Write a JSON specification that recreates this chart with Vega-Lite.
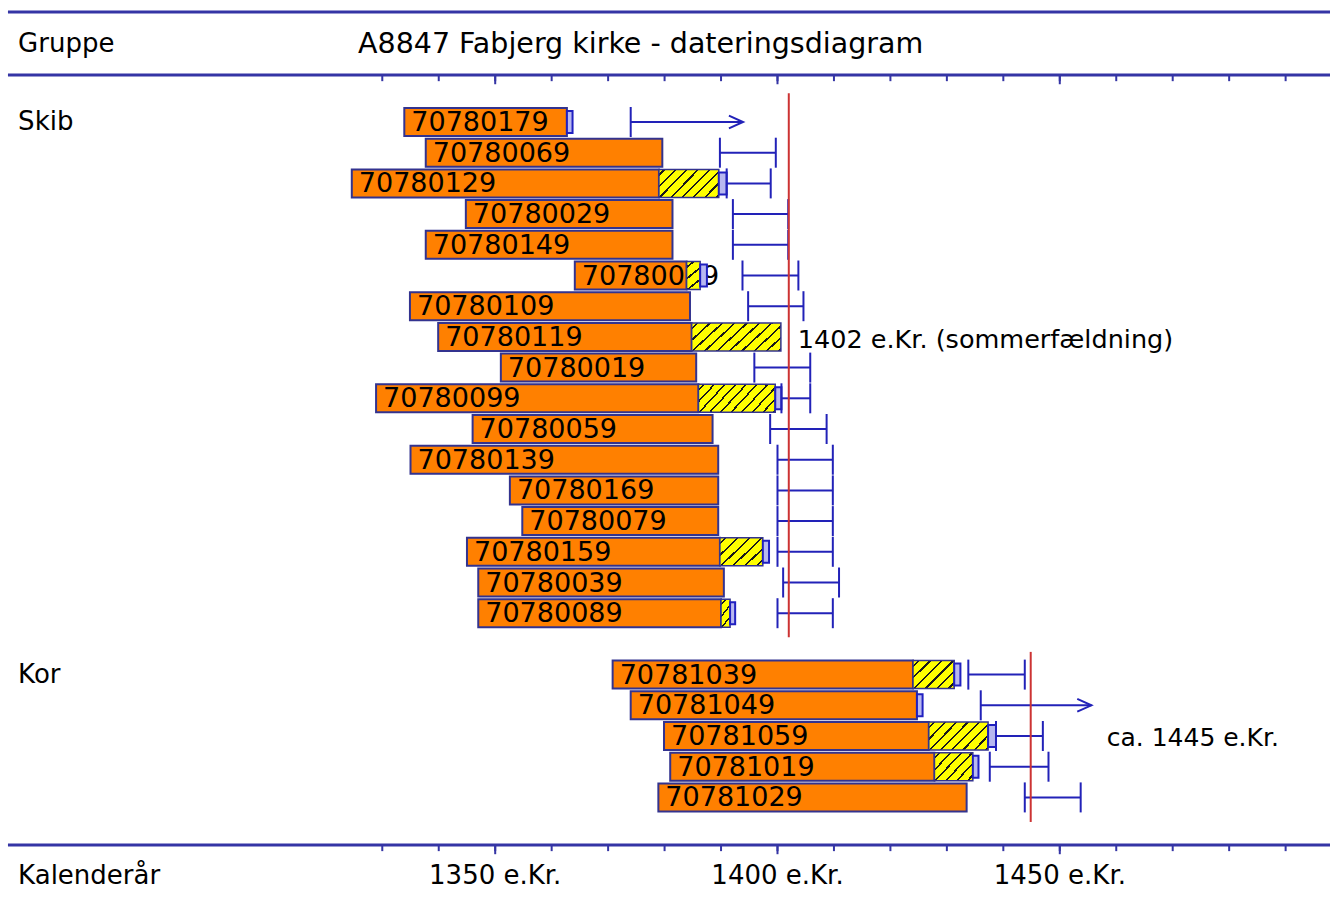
{
  "$schema": "https://vega.github.io/schema/vega-lite/v6.json",
  "width": 1330,
  "height": 904,
  "padding": 0,
  "autosize": {"type": "none"},
  "background": "white",
  "config": {"view": {"stroke": null}, "text": {"font": "DejaVu Sans", "color": "#000000"}},
  "datasets": {
    "samples": [
      {"row": 0, "id": "70780179", "s": 1333.9, "h": 1362.7, "sw": null, "bs": 1362.7, "be": 1363.7, "lo": 1374.0, "hi": 1393.9, "kind": "after"},
      {"row": 1, "id": "70780069", "s": 1337.7, "h": 1379.6, "sw": null, "bs": null, "be": null, "lo": 1389.8, "hi": 1399.7, "kind": "range"},
      {"row": 2, "id": "70780129", "s": 1324.6, "h": 1379.0, "sw": 1389.6, "bs": 1389.6, "be": 1391.0, "lo": 1391.0, "hi": 1398.8, "kind": "range"},
      {"row": 3, "id": "70780029", "s": 1344.8, "h": 1381.4, "sw": null, "bs": null, "be": null, "lo": 1392.1, "hi": 1401.9, "kind": "range"},
      {"row": 4, "id": "70780149", "s": 1337.7, "h": 1381.4, "sw": null, "bs": null, "be": null, "lo": 1392.1, "hi": 1401.9, "kind": "range"},
      {"row": 5, "id": "70780049", "s": 1364.1, "h": 1383.9, "sw": 1386.3, "bs": 1386.3, "be": 1387.5, "lo": 1393.8, "hi": 1403.7, "kind": "range"},
      {"row": 6, "id": "70780109", "s": 1334.9, "h": 1384.5, "sw": null, "bs": null, "be": null, "lo": 1394.8, "hi": 1404.6, "kind": "range"},
      {"row": 7, "id": "70780119", "s": 1339.9, "h": 1384.8, "sw": 1400.6, "bs": null, "be": null, "lo": null, "hi": null, "kind": "none"},
      {"row": 8, "id": "70780019", "s": 1351.0, "h": 1385.6, "sw": null, "bs": null, "be": null, "lo": 1395.9, "hi": 1405.8, "kind": "range"},
      {"row": 9, "id": "70780099", "s": 1328.9, "h": 1386.0, "sw": 1399.6, "bs": 1399.6, "be": 1400.7, "lo": 1400.7, "hi": 1405.8, "kind": "range"},
      {"row": 10, "id": "70780059", "s": 1346.0, "h": 1388.5, "sw": null, "bs": null, "be": null, "lo": 1398.7, "hi": 1408.7, "kind": "range"},
      {"row": 11, "id": "70780139", "s": 1335.0, "h": 1389.5, "sw": null, "bs": null, "be": null, "lo": 1400.0, "hi": 1409.8, "kind": "range"},
      {"row": 12, "id": "70780169", "s": 1352.6, "h": 1389.5, "sw": null, "bs": null, "be": null, "lo": 1400.0, "hi": 1409.8, "kind": "range"},
      {"row": 13, "id": "70780079", "s": 1354.8, "h": 1389.5, "sw": null, "bs": null, "be": null, "lo": 1400.0, "hi": 1409.8, "kind": "range"},
      {"row": 14, "id": "70780159", "s": 1345.0, "h": 1389.8, "sw": 1397.4, "bs": 1397.4, "be": 1398.5, "lo": 1400.0, "hi": 1409.8, "kind": "range"},
      {"row": 15, "id": "70780039", "s": 1347.0, "h": 1390.5, "sw": null, "bs": null, "be": null, "lo": 1401.0, "hi": 1410.9, "kind": "range"},
      {"row": 16, "id": "70780089", "s": 1347.0, "h": 1390.0, "sw": 1391.6, "bs": 1391.6, "be": 1392.5, "lo": 1400.0, "hi": 1409.8, "kind": "range"},
      {"row": 18, "id": "70781039", "s": 1370.8, "h": 1424.0, "sw": 1431.3, "bs": 1431.3, "be": 1432.4, "lo": 1433.8, "hi": 1443.8, "kind": "range"},
      {"row": 19, "id": "70781049", "s": 1374.0, "h": 1424.7, "sw": null, "bs": 1424.7, "be": 1425.7, "lo": 1436.0, "hi": 1455.6, "kind": "after"},
      {"row": 20, "id": "70781059", "s": 1379.9, "h": 1426.8, "sw": 1437.3, "bs": 1437.3, "be": 1438.7, "lo": 1438.7, "hi": 1447.0, "kind": "range"},
      {"row": 21, "id": "70781019", "s": 1381.0, "h": 1427.8, "sw": 1434.6, "bs": 1434.6, "be": 1435.6, "lo": 1437.6, "hi": 1448.0, "kind": "range"},
      {"row": 22, "id": "70781029", "s": 1378.9, "h": 1433.5, "sw": null, "bs": null, "be": null, "lo": 1443.8, "hi": 1453.7, "kind": "range"}
    ],
    "groups": [{"g": "Skib", "row": 0}, {"g": "Kor", "row": 18}],
    "ticks": [{"t": 1330}, {"t": 1340}, {"t": 1350}, {"t": 1360}, {"t": 1370}, {"t": 1380}, {"t": 1390}, {"t": 1400}, {"t": 1410}, {"t": 1420}, {"t": 1430}, {"t": 1440}, {"t": 1450}, {"t": 1460}, {"t": 1470}, {"t": 1480}, {"t": 1490}],
    "years": [{"t": 1350, "lab": "1350 e.Kr."}, {"t": 1400, "lab": "1400 e.Kr."}, {"t": 1450, "lab": "1450 e.Kr."}],
    "one": [{}]
  },
  "layer": [
    {"data": {"name": "one"}, "mark": {"type": "rule", "stroke": "#3535a5", "strokeWidth": 3},
     "encoding": {"x": {"datum": 1263.7, "type": "quantitative", "scale": {"domain": [1262.29, 1497.86], "nice": false, "zero": false, "padding": 0}, "axis": null}, "x2": {"datum": 1500},
                  "y": {"datum": -3.583, "type": "quantitative", "scale": {"domain": [-3.974, 25.472], "nice": false, "zero": false, "reverse": true, "padding": 0}, "axis": null}}},
    {"data": {"name": "one"}, "mark": {"type": "rule", "stroke": "#3535a5", "strokeWidth": 3},
     "encoding": {"x": {"datum": 1263.7, "type": "quantitative", "scale": {"domain": [1262.29, 1497.86], "nice": false, "zero": false, "padding": 0}, "axis": null}, "x2": {"datum": 1500},
                  "y": {"datum": -1.531, "type": "quantitative", "scale": {"domain": [-3.974, 25.472], "nice": false, "zero": false, "reverse": true, "padding": 0}, "axis": null}}},
    {"data": {"name": "one"}, "mark": {"type": "rule", "stroke": "#3535a5", "strokeWidth": 3},
     "encoding": {"x": {"datum": 1263.7, "type": "quantitative", "scale": {"domain": [1262.29, 1497.86], "nice": false, "zero": false, "padding": 0}, "axis": null}, "x2": {"datum": 1500},
                  "y": {"datum": 23.55, "type": "quantitative", "scale": {"domain": [-3.974, 25.472], "nice": false, "zero": false, "reverse": true, "padding": 0}, "axis": null}}},
    {"data": {"name": "ticks"}, "mark": {"type": "rule", "stroke": "#3535a5", "strokeWidth": 2},
     "encoding": {"x": {"field": "t", "type": "quantitative", "scale": {"domain": [1262.29, 1497.86], "nice": false, "zero": false, "padding": 0}, "axis": null},
                  "y": {"datum": -1.531, "type": "quantitative", "scale": {"domain": [-3.974, 25.472], "nice": false, "zero": false, "reverse": true, "padding": 0}, "axis": null}, "y2": {"datum": -1.33}}},
    {"data": {"name": "ticks"}, "transform": [{"filter": "datum.t % 50 == 0"}], "mark": {"type": "rule", "stroke": "#3535a5", "strokeWidth": 2},
     "encoding": {"x": {"field": "t", "type": "quantitative", "scale": {"domain": [1262.29, 1497.86], "nice": false, "zero": false, "padding": 0}, "axis": null},
                  "y": {"datum": -1.531, "type": "quantitative", "scale": {"domain": [-3.974, 25.472], "nice": false, "zero": false, "reverse": true, "padding": 0}, "axis": null}, "y2": {"datum": -1.23}}},
    {"data": {"name": "ticks"}, "mark": {"type": "rule", "stroke": "#3535a5", "strokeWidth": 2},
     "encoding": {"x": {"field": "t", "type": "quantitative", "scale": {"domain": [1262.29, 1497.86], "nice": false, "zero": false, "padding": 0}, "axis": null},
                  "y": {"datum": 23.55, "type": "quantitative", "scale": {"domain": [-3.974, 25.472], "nice": false, "zero": false, "reverse": true, "padding": 0}, "axis": null}, "y2": {"datum": 23.75}}},
    {"data": {"name": "ticks"}, "transform": [{"filter": "datum.t % 50 == 0"}], "mark": {"type": "rule", "stroke": "#3535a5", "strokeWidth": 2},
     "encoding": {"x": {"field": "t", "type": "quantitative", "scale": {"domain": [1262.29, 1497.86], "nice": false, "zero": false, "padding": 0}, "axis": null},
                  "y": {"datum": 23.55, "type": "quantitative", "scale": {"domain": [-3.974, 25.472], "nice": false, "zero": false, "reverse": true, "padding": 0}, "axis": null}, "y2": {"datum": 23.85}}},
    {"data": {"name": "one"}, "mark": {"type": "text", "align": "left", "baseline": "middle", "fontSize": 26, "text": "Gruppe"},
     "encoding": {"x": {"datum": 1265.5, "type": "quantitative", "scale": {"domain": [1262.29, 1497.86], "nice": false, "zero": false, "padding": 0}, "axis": null},
                  "y": {"datum": -2.54, "type": "quantitative", "scale": {"domain": [-3.974, 25.472], "nice": false, "zero": false, "reverse": true, "padding": 0}, "axis": null}}},
    {"data": {"name": "one"}, "mark": {"type": "text", "align": "left", "baseline": "middle", "fontSize": 28.5, "text": "A8847 Fabjerg kirke - dateringsdiagram"},
     "encoding": {"x": {"datum": 1325.7, "type": "quantitative", "scale": {"domain": [1262.29, 1497.86], "nice": false, "zero": false, "padding": 0}, "axis": null},
                  "y": {"datum": -2.54, "type": "quantitative", "scale": {"domain": [-3.974, 25.472], "nice": false, "zero": false, "reverse": true, "padding": 0}, "axis": null}}},
    {"data": {"name": "one"}, "mark": {"type": "text", "align": "left", "baseline": "middle", "fontSize": 26, "text": "Kalenderår"},
     "encoding": {"x": {"datum": 1265.5, "type": "quantitative", "scale": {"domain": [1262.29, 1497.86], "nice": false, "zero": false, "padding": 0}, "axis": null},
                  "y": {"datum": 24.56, "type": "quantitative", "scale": {"domain": [-3.974, 25.472], "nice": false, "zero": false, "reverse": true, "padding": 0}, "axis": null}}},
    {"data": {"name": "years"}, "mark": {"type": "text", "align": "center", "baseline": "middle", "fontSize": 26},
     "encoding": {"x": {"field": "t", "type": "quantitative", "scale": {"domain": [1262.29, 1497.86], "nice": false, "zero": false, "padding": 0}, "axis": null},
                  "y": {"datum": 24.56, "type": "quantitative", "scale": {"domain": [-3.974, 25.472], "nice": false, "zero": false, "reverse": true, "padding": 0}, "axis": null},
                  "text": {"field": "lab"}}},
    {"data": {"name": "groups"}, "mark": {"type": "text", "align": "left", "baseline": "middle", "fontSize": 26},
     "encoding": {"x": {"datum": 1265.5, "type": "quantitative", "scale": {"domain": [1262.29, 1497.86], "nice": false, "zero": false, "padding": 0}, "axis": null},
                  "y": {"field": "row", "type": "quantitative", "scale": {"domain": [-3.974, 25.472], "nice": false, "zero": false, "reverse": true, "padding": 0}, "axis": null},
                  "text": {"field": "g"}}},
    {"data": {"name": "samples"}, "mark": {"type": "bar", "height": 28, "fill": "#ff8000", "stroke": "#33338f", "strokeWidth": 2},
     "encoding": {"x": {"field": "s", "type": "quantitative", "scale": {"domain": [1262.29, 1497.86], "nice": false, "zero": false, "padding": 0}, "axis": null}, "x2": {"field": "h"},
                  "y": {"field": "row", "type": "quantitative", "scale": {"domain": [-3.974, 25.472], "nice": false, "zero": false, "reverse": true, "padding": 0}, "axis": null}}},
    {"data": {"name": "samples"}, "mark": {"type": "text", "align": "left", "baseline": "middle", "fontSize": 27, "dx": 7, "dy": 1},
     "encoding": {"x": {"field": "s", "type": "quantitative", "scale": {"domain": [1262.29, 1497.86], "nice": false, "zero": false, "padding": 0}, "axis": null},
                  "y": {"field": "row", "type": "quantitative", "scale": {"domain": [-3.974, 25.472], "nice": false, "zero": false, "reverse": true, "padding": 0}, "axis": null},
                  "text": {"field": "id"}}},
    {"data": {"name": "samples"}, "transform": [{"filter": "datum.sw != null && datum.sw - datum.h < 4"}],
     "mark": {"type": "bar", "height": 28, "stroke": "#33338f", "strokeWidth": 1.5,
              "fill": {"gradient": "linear", "x1": 0, "y1": 0, "x2": 0.474, "y2": 1.207, "stops": [
                {"offset": 0, "color": "#ffff00"}, {"offset": 0.1193, "color": "#ffff00"}, {"offset": 0.1193, "color": "#1a1a1a"}, {"offset": 0.1757, "color": "#1a1a1a"}, {"offset": 0.1757, "color": "#ffff00"},
                {"offset": 0.4142, "color": "#ffff00"}, {"offset": 0.4142, "color": "#1a1a1a"}, {"offset": 0.4706, "color": "#1a1a1a"}, {"offset": 0.4706, "color": "#ffff00"},
                {"offset": 0.7091, "color": "#ffff00"}, {"offset": 0.7091, "color": "#1a1a1a"}, {"offset": 0.7655, "color": "#1a1a1a"}, {"offset": 0.7655, "color": "#ffff00"}, {"offset": 1, "color": "#ffff00"}]}},
     "encoding": {"x": {"field": "h", "type": "quantitative", "scale": {"domain": [1262.29, 1497.86], "nice": false, "zero": false, "padding": 0}, "axis": null}, "x2": {"field": "sw"},
                  "y": {"field": "row", "type": "quantitative", "scale": {"domain": [-3.974, 25.472], "nice": false, "zero": false, "reverse": true, "padding": 0}, "axis": null}}},
    {"data": {"name": "samples"}, "transform": [{"filter": "datum.sw != null && datum.sw - datum.h >= 4 && datum.sw - datum.h < 8.5"}],
     "mark": {"type": "bar", "height": 28, "stroke": "#33338f", "strokeWidth": 1.5,
              "fill": {"gradient": "linear", "x1": 0, "y1": 0, "x2": 1.148, "y2": 0.784, "stops": [
                {"offset": 0, "color": "#ffff00"},
                {"offset": 0.0673, "color": "#ffff00"}, {"offset": 0.0673, "color": "#1a1a1a"}, {"offset": 0.0993, "color": "#1a1a1a"}, {"offset": 0.0993, "color": "#ffff00"},
                {"offset": 0.234, "color": "#ffff00"}, {"offset": 0.234, "color": "#1a1a1a"}, {"offset": 0.266, "color": "#1a1a1a"}, {"offset": 0.266, "color": "#ffff00"},
                {"offset": 0.4007, "color": "#ffff00"}, {"offset": 0.4007, "color": "#1a1a1a"}, {"offset": 0.4327, "color": "#1a1a1a"}, {"offset": 0.4327, "color": "#ffff00"},
                {"offset": 0.5673, "color": "#ffff00"}, {"offset": 0.5673, "color": "#1a1a1a"}, {"offset": 0.5993, "color": "#1a1a1a"}, {"offset": 0.5993, "color": "#ffff00"},
                {"offset": 0.734, "color": "#ffff00"}, {"offset": 0.734, "color": "#1a1a1a"}, {"offset": 0.766, "color": "#1a1a1a"}, {"offset": 0.766, "color": "#ffff00"},
                {"offset": 0.9007, "color": "#ffff00"}, {"offset": 0.9007, "color": "#1a1a1a"}, {"offset": 0.9327, "color": "#1a1a1a"}, {"offset": 0.9327, "color": "#ffff00"},
                {"offset": 1, "color": "#ffff00"}]}},
     "encoding": {"x": {"field": "h", "type": "quantitative", "scale": {"domain": [1262.29, 1497.86], "nice": false, "zero": false, "padding": 0}, "axis": null}, "x2": {"field": "sw"},
                  "y": {"field": "row", "type": "quantitative", "scale": {"domain": [-3.974, 25.472], "nice": false, "zero": false, "reverse": true, "padding": 0}, "axis": null}}},
    {"data": {"name": "samples"}, "transform": [{"filter": "datum.sw != null && datum.sw - datum.h >= 8.5 && datum.sw - datum.h < 12.5"}],
     "mark": {"type": "bar", "height": 28, "stroke": "#33338f", "strokeWidth": 1.5,
              "fill": {"gradient": "linear", "x1": 0, "y1": 0, "x2": 1.205, "y2": 0.553, "stops": [
                {"offset": 0, "color": "#ffff00"},
                {"offset": 0.0522, "color": "#ffff00"}, {"offset": 0.0522, "color": "#1a1a1a"}, {"offset": 0.077, "color": "#1a1a1a"}, {"offset": 0.077, "color": "#ffff00"},
                {"offset": 0.1814, "color": "#ffff00"}, {"offset": 0.1814, "color": "#1a1a1a"}, {"offset": 0.2062, "color": "#1a1a1a"}, {"offset": 0.2062, "color": "#ffff00"},
                {"offset": 0.3106, "color": "#ffff00"}, {"offset": 0.3106, "color": "#1a1a1a"}, {"offset": 0.3354, "color": "#1a1a1a"}, {"offset": 0.3354, "color": "#ffff00"},
                {"offset": 0.4398, "color": "#ffff00"}, {"offset": 0.4398, "color": "#1a1a1a"}, {"offset": 0.4646, "color": "#1a1a1a"}, {"offset": 0.4646, "color": "#ffff00"},
                {"offset": 0.569, "color": "#ffff00"}, {"offset": 0.569, "color": "#1a1a1a"}, {"offset": 0.5938, "color": "#1a1a1a"}, {"offset": 0.5938, "color": "#ffff00"},
                {"offset": 0.6982, "color": "#ffff00"}, {"offset": 0.6982, "color": "#1a1a1a"}, {"offset": 0.723, "color": "#1a1a1a"}, {"offset": 0.723, "color": "#ffff00"},
                {"offset": 0.8274, "color": "#ffff00"}, {"offset": 0.8274, "color": "#1a1a1a"}, {"offset": 0.8522, "color": "#1a1a1a"}, {"offset": 0.8522, "color": "#ffff00"},
                {"offset": 0.9566, "color": "#ffff00"}, {"offset": 0.9566, "color": "#1a1a1a"}, {"offset": 0.9814, "color": "#1a1a1a"}, {"offset": 0.9814, "color": "#ffff00"},
                {"offset": 1, "color": "#ffff00"}]}},
     "encoding": {"x": {"field": "h", "type": "quantitative", "scale": {"domain": [1262.29, 1497.86], "nice": false, "zero": false, "padding": 0}, "axis": null}, "x2": {"field": "sw"},
                  "y": {"field": "row", "type": "quantitative", "scale": {"domain": [-3.974, 25.472], "nice": false, "zero": false, "reverse": true, "padding": 0}, "axis": null}}},
    {"data": {"name": "samples"}, "transform": [{"filter": "datum.sw != null && datum.sw - datum.h >= 12.5"}],
     "mark": {"type": "bar", "height": 28, "stroke": "#33338f", "strokeWidth": 1.5,
              "fill": {"gradient": "linear", "x1": 0, "y1": 0, "x2": 1.2007, "y2": 0.405, "stops": [
                {"offset": 0, "color": "#ffff00"},
                {"offset": 0.0419, "color": "#ffff00"}, {"offset": 0.0419, "color": "#1a1a1a"}, {"offset": 0.0617, "color": "#1a1a1a"}, {"offset": 0.0617, "color": "#ffff00"},
                {"offset": 0.1455, "color": "#ffff00"}, {"offset": 0.1455, "color": "#1a1a1a"}, {"offset": 0.1653, "color": "#1a1a1a"}, {"offset": 0.1653, "color": "#ffff00"},
                {"offset": 0.2491, "color": "#ffff00"}, {"offset": 0.2491, "color": "#1a1a1a"}, {"offset": 0.2689, "color": "#1a1a1a"}, {"offset": 0.2689, "color": "#ffff00"},
                {"offset": 0.3527, "color": "#ffff00"}, {"offset": 0.3527, "color": "#1a1a1a"}, {"offset": 0.3725, "color": "#1a1a1a"}, {"offset": 0.3725, "color": "#ffff00"},
                {"offset": 0.4563, "color": "#ffff00"}, {"offset": 0.4563, "color": "#1a1a1a"}, {"offset": 0.4761, "color": "#1a1a1a"}, {"offset": 0.4761, "color": "#ffff00"},
                {"offset": 0.5599, "color": "#ffff00"}, {"offset": 0.5599, "color": "#1a1a1a"}, {"offset": 0.5797, "color": "#1a1a1a"}, {"offset": 0.5797, "color": "#ffff00"},
                {"offset": 0.6635, "color": "#ffff00"}, {"offset": 0.6635, "color": "#1a1a1a"}, {"offset": 0.6833, "color": "#1a1a1a"}, {"offset": 0.6833, "color": "#ffff00"},
                {"offset": 0.7671, "color": "#ffff00"}, {"offset": 0.7671, "color": "#1a1a1a"}, {"offset": 0.7869, "color": "#1a1a1a"}, {"offset": 0.7869, "color": "#ffff00"},
                {"offset": 0.8707, "color": "#ffff00"}, {"offset": 0.8707, "color": "#1a1a1a"}, {"offset": 0.8905, "color": "#1a1a1a"}, {"offset": 0.8905, "color": "#ffff00"},
                {"offset": 0.9743, "color": "#ffff00"}, {"offset": 0.9743, "color": "#1a1a1a"}, {"offset": 0.9941, "color": "#1a1a1a"}, {"offset": 0.9941, "color": "#ffff00"},
                {"offset": 1, "color": "#ffff00"}]}},
     "encoding": {"x": {"field": "h", "type": "quantitative", "scale": {"domain": [1262.29, 1497.86], "nice": false, "zero": false, "padding": 0}, "axis": null}, "x2": {"field": "sw"},
                  "y": {"field": "row", "type": "quantitative", "scale": {"domain": [-3.974, 25.472], "nice": false, "zero": false, "reverse": true, "padding": 0}, "axis": null}}},
    {"data": {"name": "samples"}, "transform": [{"filter": "datum.be != null"}],
     "mark": {"type": "bar", "height": 22, "fill": "#b8b8f0", "stroke": "#2020c0", "strokeWidth": 2},
     "encoding": {"x": {"field": "bs", "type": "quantitative", "scale": {"domain": [1262.29, 1497.86], "nice": false, "zero": false, "padding": 0}, "axis": null}, "x2": {"field": "be"},
                  "y": {"field": "row", "type": "quantitative", "scale": {"domain": [-3.974, 25.472], "nice": false, "zero": false, "reverse": true, "padding": 0}, "axis": null}}},
    {"data": {"name": "samples"}, "transform": [{"filter": "datum.lo != null"}],
     "mark": {"type": "rule", "stroke": "#2222b8", "strokeWidth": 2},
     "encoding": {"x": {"field": "lo", "type": "quantitative", "scale": {"domain": [1262.29, 1497.86], "nice": false, "zero": false, "padding": 0}, "axis": null}, "x2": {"field": "hi"},
                  "y": {"field": "row", "type": "quantitative", "scale": {"domain": [-3.974, 25.472], "nice": false, "zero": false, "reverse": true, "padding": 0}, "axis": null}}},
    {"data": {"name": "samples"}, "transform": [{"filter": "datum.lo != null"}],
     "mark": {"type": "tick", "orient": "vertical", "thickness": 2, "color": "#2222b8", "opacity": 1},
     "encoding": {"x": {"field": "lo", "type": "quantitative", "scale": {"domain": [1262.29, 1497.86], "nice": false, "zero": false, "padding": 0}, "axis": null},
                  "y": {"field": "row", "type": "quantitative", "scale": {"domain": [-3.974, 25.472], "nice": false, "zero": false, "reverse": true, "padding": 0}, "axis": null},
                  "size": {"value": 30}}},
    {"data": {"name": "samples"}, "transform": [{"filter": "datum.kind == 'range'"}],
     "mark": {"type": "tick", "orient": "vertical", "thickness": 2, "color": "#2222b8", "opacity": 1},
     "encoding": {"x": {"field": "hi", "type": "quantitative", "scale": {"domain": [1262.29, 1497.86], "nice": false, "zero": false, "padding": 0}, "axis": null},
                  "y": {"field": "row", "type": "quantitative", "scale": {"domain": [-3.974, 25.472], "nice": false, "zero": false, "reverse": true, "padding": 0}, "axis": null},
                  "size": {"value": 30}}},
    {"data": {"name": "samples"}, "transform": [{"filter": "datum.kind == 'after'"}],
     "mark": {"type": "point", "shape": "M-2,-0.9L0,0L-2,0.9", "filled": false, "fill": null, "size": 200, "stroke": "#2222b8", "strokeWidth": 2, "opacity": 1},
     "encoding": {"x": {"field": "hi", "type": "quantitative", "scale": {"domain": [1262.29, 1497.86], "nice": false, "zero": false, "padding": 0}, "axis": null},
                  "y": {"field": "row", "type": "quantitative", "scale": {"domain": [-3.974, 25.472], "nice": false, "zero": false, "reverse": true, "padding": 0}, "axis": null}}},
    {"data": {"name": "one"}, "mark": {"type": "rule", "stroke": "#cc3333", "strokeWidth": 2},
     "encoding": {"x": {"datum": 1402, "type": "quantitative", "scale": {"domain": [1262.29, 1497.86], "nice": false, "zero": false, "padding": 0}, "axis": null},
                  "y": {"datum": -0.94, "type": "quantitative", "scale": {"domain": [-3.974, 25.472], "nice": false, "zero": false, "reverse": true, "padding": 0}, "axis": null}, "y2": {"datum": 16.78}}},
    {"data": {"name": "one"}, "mark": {"type": "rule", "stroke": "#cc3333", "strokeWidth": 2},
     "encoding": {"x": {"datum": 1444.85, "type": "quantitative", "scale": {"domain": [1262.29, 1497.86], "nice": false, "zero": false, "padding": 0}, "axis": null},
                  "y": {"datum": 17.26, "type": "quantitative", "scale": {"domain": [-3.974, 25.472], "nice": false, "zero": false, "reverse": true, "padding": 0}, "axis": null}, "y2": {"datum": 22.8}}},
    {"data": {"name": "one"}, "mark": {"type": "text", "align": "left", "baseline": "middle", "fontSize": 25.5, "dx": 9, "dy": 3, "text": "1402 e.Kr. (sommerfældning)"},
     "encoding": {"x": {"datum": 1402, "type": "quantitative", "scale": {"domain": [1262.29, 1497.86], "nice": false, "zero": false, "padding": 0}, "axis": null},
                  "y": {"datum": 7, "type": "quantitative", "scale": {"domain": [-3.974, 25.472], "nice": false, "zero": false, "reverse": true, "padding": 0}, "axis": null}}},
    {"data": {"name": "one"}, "mark": {"type": "text", "align": "left", "baseline": "middle", "fontSize": 25, "dx": 76, "dy": 2, "text": "ca. 1445 e.Kr."},
     "encoding": {"x": {"datum": 1444.85, "type": "quantitative", "scale": {"domain": [1262.29, 1497.86], "nice": false, "zero": false, "padding": 0}, "axis": null},
                  "y": {"datum": 20, "type": "quantitative", "scale": {"domain": [-3.974, 25.472], "nice": false, "zero": false, "reverse": true, "padding": 0}, "axis": null}}}
  ]
}
